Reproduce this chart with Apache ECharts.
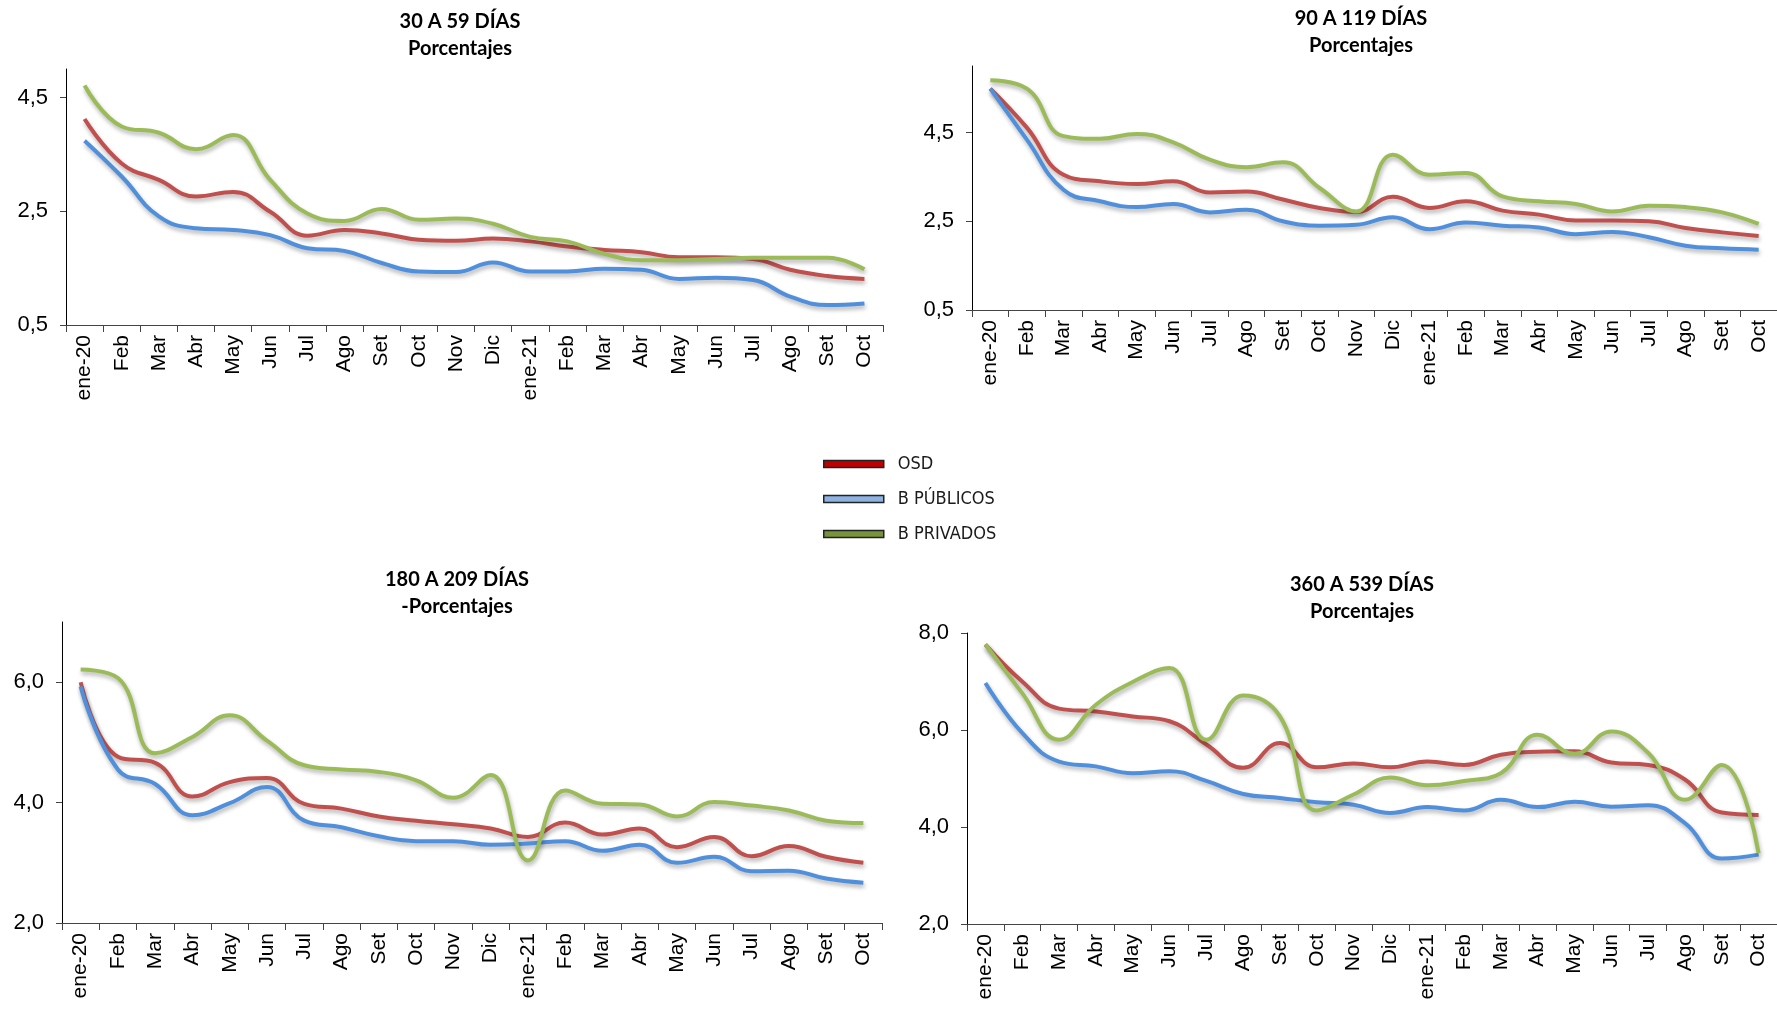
<!DOCTYPE html>
<html>
<head>
<meta charset="utf-8">
<script src="https://cdn.jsdelivr.net/npm/echarts@6/dist/echarts.min.js"></script>
<style>
  html, body { margin: 0; padding: 0; background: #fff; }
  #main { width: 1777px; height: 1010px; }
</style>
</head>
<body>
<div id="main"></div>
<script>
// categorias (meses)
const months = ['ene-20', 'Feb', 'Mar', 'Abr', 'May', 'Jun', 'Jul', 'Ago', 'Set', 'Oct', 'Nov', 'Dic',
  'ene-21', 'Feb', 'Mar', 'Abr', 'May', 'Jun', 'Jul', 'Ago', 'Set', 'Oct'];

const seriesNames = ['OSD', 'B PÚBLICOS', 'B PRIVADOS'];

// 30 a 59 dias
const d30Osd = [4.12, 3.34, 3.05, 2.76, 2.84, 2.49, 2.07, 2.17, 2.11, 2.00, 1.98, 2.02, 1.97, 1.88, 1.82, 1.78, 1.69, 1.69, 1.66, 1.47, 1.36, 1.31];
const d30Pub = [3.74, 3.11, 2.41, 2.20, 2.17, 2.08, 1.85, 1.80, 1.59, 1.44, 1.43, 1.60, 1.44, 1.44, 1.49, 1.47, 1.31, 1.33, 1.29, 1.00, 0.85, 0.88];
const d30Pri = [4.71, 3.99, 3.88, 3.59, 3.84, 3.05, 2.46, 2.33, 2.54, 2.35, 2.37, 2.28, 2.05, 1.97, 1.75, 1.64, 1.64, 1.66, 1.68, 1.68, 1.68, 1.48];

// 90 a 119 dias
const d90Osd = [5.49, 4.61, 3.55, 3.40, 3.34, 3.40, 3.15, 3.17, 2.99, 2.80, 2.71, 3.05, 2.80, 2.95, 2.74, 2.65, 2.52, 2.52, 2.50, 2.35, 2.25, 2.17];
const d90Pub = [5.49, 4.34, 3.21, 2.95, 2.82, 2.89, 2.70, 2.76, 2.50, 2.40, 2.42, 2.59, 2.32, 2.47, 2.40, 2.36, 2.21, 2.26, 2.14, 1.95, 1.89, 1.86];
const d90Pri = [5.68, 5.49, 4.42, 4.36, 4.47, 4.28, 3.89, 3.72, 3.83, 3.25, 2.72, 4.00, 3.55, 3.59, 3.06, 2.95, 2.89, 2.72, 2.85, 2.82, 2.70, 2.44];

// 180 a 209 dias
const d180Osd = [6.00, 4.76, 4.66, 4.10, 4.34, 4.41, 3.98, 3.90, 3.77, 3.70, 3.64, 3.57, 3.43, 3.67, 3.47, 3.57, 3.26, 3.43, 3.11, 3.28, 3.10, 3.00];
const d180Pub = [5.93, 4.55, 4.31, 3.79, 3.99, 4.26, 3.70, 3.59, 3.44, 3.36, 3.36, 3.30, 3.32, 3.36, 3.20, 3.30, 3.00, 3.10, 2.86, 2.87, 2.74, 2.67];
const d180Pri = [6.21, 6.07, 4.82, 5.09, 5.45, 5.03, 4.62, 4.55, 4.51, 4.37, 4.08, 4.46, 3.04, 4.20, 3.98, 3.97, 3.77, 4.01, 3.95, 3.87, 3.70, 3.66];

// 360 a 539 dias
const d360Osd = [7.76, 7.00, 6.44, 6.38, 6.28, 6.18, 5.70, 5.22, 5.73, 5.23, 5.31, 5.23, 5.35, 5.28, 5.49, 5.55, 5.56, 5.33, 5.28, 4.98, 4.30, 4.25];
const d360Pub = [6.97, 5.94, 5.35, 5.25, 5.11, 5.15, 4.95, 4.68, 4.60, 4.51, 4.46, 4.29, 4.41, 4.34, 4.56, 4.41, 4.52, 4.42, 4.45, 4.08, 3.35, 3.43];
const d360Pri = [7.77, 6.76, 5.80, 6.52, 6.99, 7.28, 5.80, 6.71, 6.28, 4.34, 4.67, 5.02, 4.86, 4.95, 5.11, 5.90, 5.51, 5.97, 5.53, 4.56, 5.28, 3.46];

// marcas del eje y
const ticks30 = [0.5, 2.5, 4.5];
const ticks90 = [0.5, 2.5, 4.5];
const ticks180 = [2.0, 4.0, 6.0];
const ticks360 = [2.0, 4.0, 6.0, 8.0];

const titles = [
  ['30 A 59 DÍAS', 'Porcentajes'],
  ['90 A 119 DÍAS', 'Porcentajes'],
  ['180 A 209 DÍAS', '-Porcentajes'],
  ['360 A 539 DÍAS', 'Porcentajes']
];

const lineColors = ['#C0504D', '#4F8FDC', '#9BBB59'];

const panels = [
  { data: [d30Osd, d30Pub, d30Pri], ticks: ticks30, min: 0.5, max: 5.0,
    grid: { left: 66, top: 69, width: 817, height: 256 }, tx: 460, ty: 22 },
  { data: [d90Osd, d90Pub, d90Pri], ticks: ticks90, min: 0.5, max: 6.0,
    grid: { left: 972, top: 66, width: 806, height: 244 }, tx: 1361, ty: 19 },
  { data: [d180Osd, d180Pub, d180Pri], ticks: ticks180, min: 2.0, max: 7.0,
    grid: { left: 62, top: 622, width: 820, height: 301 }, tx: 457, ty: 580 },
  { data: [d360Osd, d360Pub, d360Pri], ticks: ticks360, min: 2.0, max: 8.0,
    grid: { left: 967, top: 633, width: 816, height: 291 }, tx: 1362, ty: 585 }
];

const fmt = (v) => v.toFixed(1).replace('.', ',');

let grids = [];
let xAxes = [];
let yAxes = [];
let series = [];
let graphics = [];

panels.forEach((p, i) => {
  grids.push(p.grid);
  xAxes.push({
    type: 'category',
    gridIndex: i,
    data: months,
    boundaryGap: true,
    axisLine: { show: true, lineStyle: { color: '#444', width: 1 } },
    axisTick: { show: true, length: 7, lineStyle: { color: '#444' } },
    axisLabel: {
      interval: 0,
      rotate: 90,
      margin: 10,
      color: '#000',
      fontSize: 21,
      fontFamily: 'Liberation Sans, Arial, sans-serif'
    },
    splitLine: { show: false }
  });
  yAxes.push({
    type: 'value',
    gridIndex: i,
    min: p.min,
    max: p.max,
    axisLine: { show: true, lineStyle: { color: '#000', width: 1 } },
    axisTick: { show: true, length: 6, customValues: p.ticks, lineStyle: { color: '#444' } },
    axisLabel: {
      customValues: p.ticks,
      formatter: fmt,
      margin: 18,
      color: '#000',
      fontSize: 22,
      fontFamily: 'Liberation Sans, Arial, sans-serif'
    },
    splitLine: { show: false }
  });
  p.data.forEach((vals, k) => {
    series.push({
      name: seriesNames[k],
      type: 'line',
      xAxisIndex: i,
      yAxisIndex: i,
      data: vals,
      smooth: 0.45,
      symbol: 'none',
      color: lineColors[k],
      lineStyle: {
        width: 4,
        color: lineColors[k],
        shadowColor: 'rgba(0,0,0,0.3)',
        shadowBlur: 4,
        shadowOffsetX: 1,
        shadowOffsetY: 3
      },
      emphasis: { disabled: true }
    });
  });
  graphics.push({
    type: 'text',
    x: p.tx,
    y: p.ty,
    style: {
      text: titles[i][0],
      align: 'center',
      verticalAlign: 'middle',
      fontSize: 20,
      fontWeight: 'bold',
      fontFamily: 'Lato, sans-serif',
      fill: '#000'
    }
  });
  graphics.push({
    type: 'text',
    x: p.tx,
    y: p.ty + 27,
    style: {
      text: titles[i][1],
      align: 'center',
      verticalAlign: 'middle',
      fontSize: 20,
      fontWeight: 'bold',
      fontFamily: 'Lato, sans-serif',
      fill: '#000'
    }
  });
});

const chart = echarts.init(document.getElementById('main'));
chart.setOption({
  backgroundColor: '#fff',
  animation: false,
  legend: {
    orient: 'vertical',
    left: 818,
    top: 450,
    itemWidth: 60,
    itemHeight: 7,
    itemGap: 17,
    icon: 'rect',
    selectedMode: false,
    itemStyle: { borderColor: '#222', borderWidth: 1.5 },
    textStyle: {
      color: '#1a1a1a',
      fontSize: 18,
      lineHeight: 18,
      fontFamily: 'Liberation Sans Narrow, DejaVu Sans Condensed, sans-serif',
      padding: [0, 0, 0, 9]
    },
    data: [
      { name: 'OSD', itemStyle: { color: '#C00000' } },
      { name: 'B PÚBLICOS', itemStyle: { color: '#8DB3E2' } },
      { name: 'B PRIVADOS', itemStyle: { color: '#77933C' } }
    ]
  },
  grid: grids,
  xAxis: xAxes,
  yAxis: yAxes,
  series: series,
  graphic: graphics
});
</script>
</body>
</html>
